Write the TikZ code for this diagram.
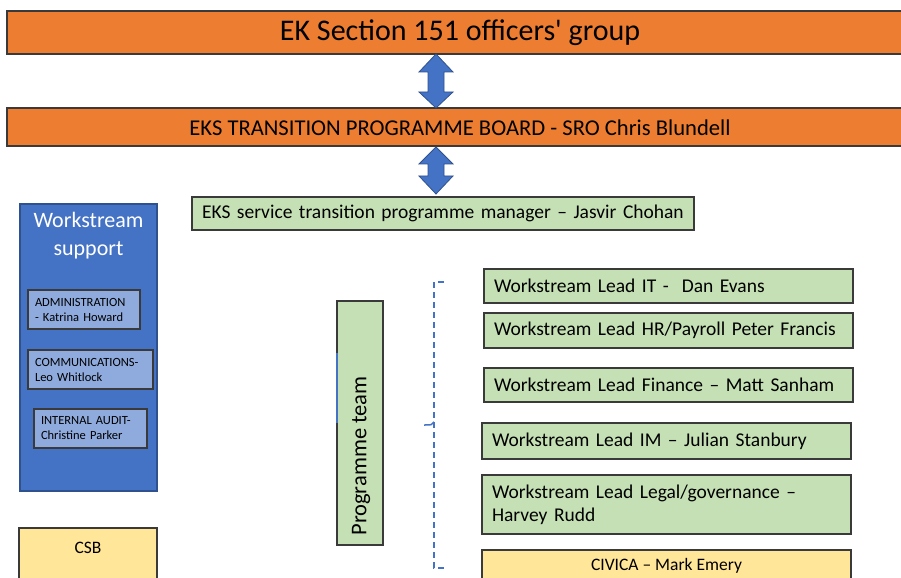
\documentclass[tikz,border=0pt]{standalone}
\usepackage{fontspec}
\setmainfont{Carlito}
\definecolor{orng}{HTML}{ED7D31}
\definecolor{grn}{HTML}{C5E0B4}
\definecolor{blu}{HTML}{4472C4}
\definecolor{bludark}{HTML}{2F528F}
\definecolor{lblu}{HTML}{8FAADC}
\definecolor{ylw}{HTML}{FFE699}
\definecolor{edge}{HTML}{3A3A3A}
\newcommand{\fs}[1]{\fontsize{#1bp}{1.2\dimexpr #1bp\relax}\selectfont}
\tikzset{
  box/.style={draw=edge, line width=1.2bp, inner sep=0pt, outer sep=0pt},
  orangebox/.style={box, fill=orng},
  greenbox/.style={box, fill=grn},
  leadbox/.style={box, fill=grn, align=left, inner xsep=10bp, inner ysep=0pt},
  smallbox/.style={box, fill=lblu, align=left, inner xsep=7bp, font=\fs{12.5}},
  bigarrow/.style={fill=blu, draw=bludark, line width=0.8bp, line join=miter},
  bracket/.style={draw=blu, line width=1.5bp, dash pattern=on 6bp off 4bp}
}
\begin{document}
\begin{tikzpicture}[x=1bp,y=-1bp]
\useasboundingbox (0,0) rectangle (901,578);
\clip (0,0) rectangle (901,578);
\fill[white] (0,0) rectangle (901,578);

% top boxes
\node[orangebox, minimum width=900bp, minimum height=43bp, anchor=north west] (s151) at (7,11) {};
\node[font=\fs{30}] (s151t) at (460,33) {EK Section 151 officers\textquotesingle\ group};
\node[orangebox, minimum width=900bp, minimum height=38bp, anchor=north west] (board) at (7,108) {};
\node[font=\fs{22.6}] (boardt) at (460,127.5) {EKS TRANSITION PROGRAMME BOARD - SRO Chris Blundell};

% manager
\node[leadbox, text width=482bp, minimum height=33bp, anchor=north west, font=\fs{19.5}] (mgr) at (192,197) {EKS service transition programme manager -- Jasvir Chohan};

% double arrows
\draw[bigarrow] (436,54) -- (453,72) -- (444,72) -- (444,92) -- (453,92) -- (436,108)
  -- (419,92) -- (428,92) -- (428,72) -- (419,72) -- cycle;
\draw[bigarrow] (436,147) -- (453,164) -- (444,164) -- (444,176) -- (453,176) -- (436,194)
  -- (419,176) -- (428,176) -- (428,164) -- (419,164) -- cycle;

% workstream support
\node[box, fill=blu, draw=bludark, minimum width=137bp, minimum height=287bp, anchor=north west] (ws) at (20,204) {};
\node[text=white, font=\fs{22}, align=center, anchor=north] (wst) at ([yshift=-5bp]ws.north) {Workstream\\[1.5bp]support};
\node[smallbox, text width=98bp, minimum height=39bp, anchor=north west] (admin) at (28,290) {ADMINISTRATION\\- Katrina Howard};
\node[smallbox, text width=111bp, minimum height=39bp, anchor=north west] (comms) at (28,350) {COMMUNICATIONS-\\Leo Whitlock};
\node[smallbox, text width=99bp, minimum height=39bp, anchor=north west] (audit) at (34,409) {INTERNAL AUDIT-\\Christine Parker};

% CSB
\node[box, fill=ylw, minimum width=138bp, minimum height=80bp, anchor=north west] (csb) at (19,528) {};
\node[font=\fs{17.5}] (csbt) at (88,548) {CSB};

% programme team
\node[greenbox, minimum width=46bp, minimum height=244bp, anchor=north west] (prog) at (337,301) {};
\node[font=\fs{22.5}, rotate=90] (progt) at (361,456) {Programme team};
\draw[blu, line width=1.8bp] ([yshift=-52bp]prog.north west) -- ([yshift=-122bp]prog.north west);

% dashed bracket
\coordinate (bt) at (444,282);
\coordinate (bb) at (444,568);
\coordinate (bm) at (424,425);
\draw[bracket] (bt) -- (434,282) -- (434,568) -- (bb);
\draw[blu, line width=1.5bp] (434,422) .. controls (432,425) .. (bm);

% workstream leads
\node[leadbox, text width=349bp, minimum height=34bp, anchor=north west, font=\fs{19.5}] (it) at (484,269) {Workstream Lead IT -\ \ Dan Evans};
\node[leadbox, text width=349bp, minimum height=35bp, anchor=north west, font=\fs{19.5}] (hr) at (484,313) {Workstream Lead HR/Payroll Peter Francis};
\node[leadbox, text width=349bp, minimum height=34bp, anchor=north west, font=\fs{19.5}] (fin) at (484,368) {Workstream Lead Finance -- Matt Sanham};
\node[leadbox, text width=349bp, minimum height=36bp, anchor=north west, font=\fs{19.5}] (im) at (482,423) {Workstream Lead IM -- Julian Stanbury};
\node[leadbox, text width=349bp, minimum height=59bp, anchor=north west, font=\fs{19.5}] (legal) at (482,475) {Workstream Lead Legal/governance --\\Harvey Rudd};
\node[box, fill=ylw, minimum width=369bp, minimum height=60bp, anchor=north west] (civica) at (482,550) {};
\node[font=\fs{17.5}] (civicat) at (666.5,566) {CIVICA -- Mark Emery};
\end{tikzpicture}
\end{document}
